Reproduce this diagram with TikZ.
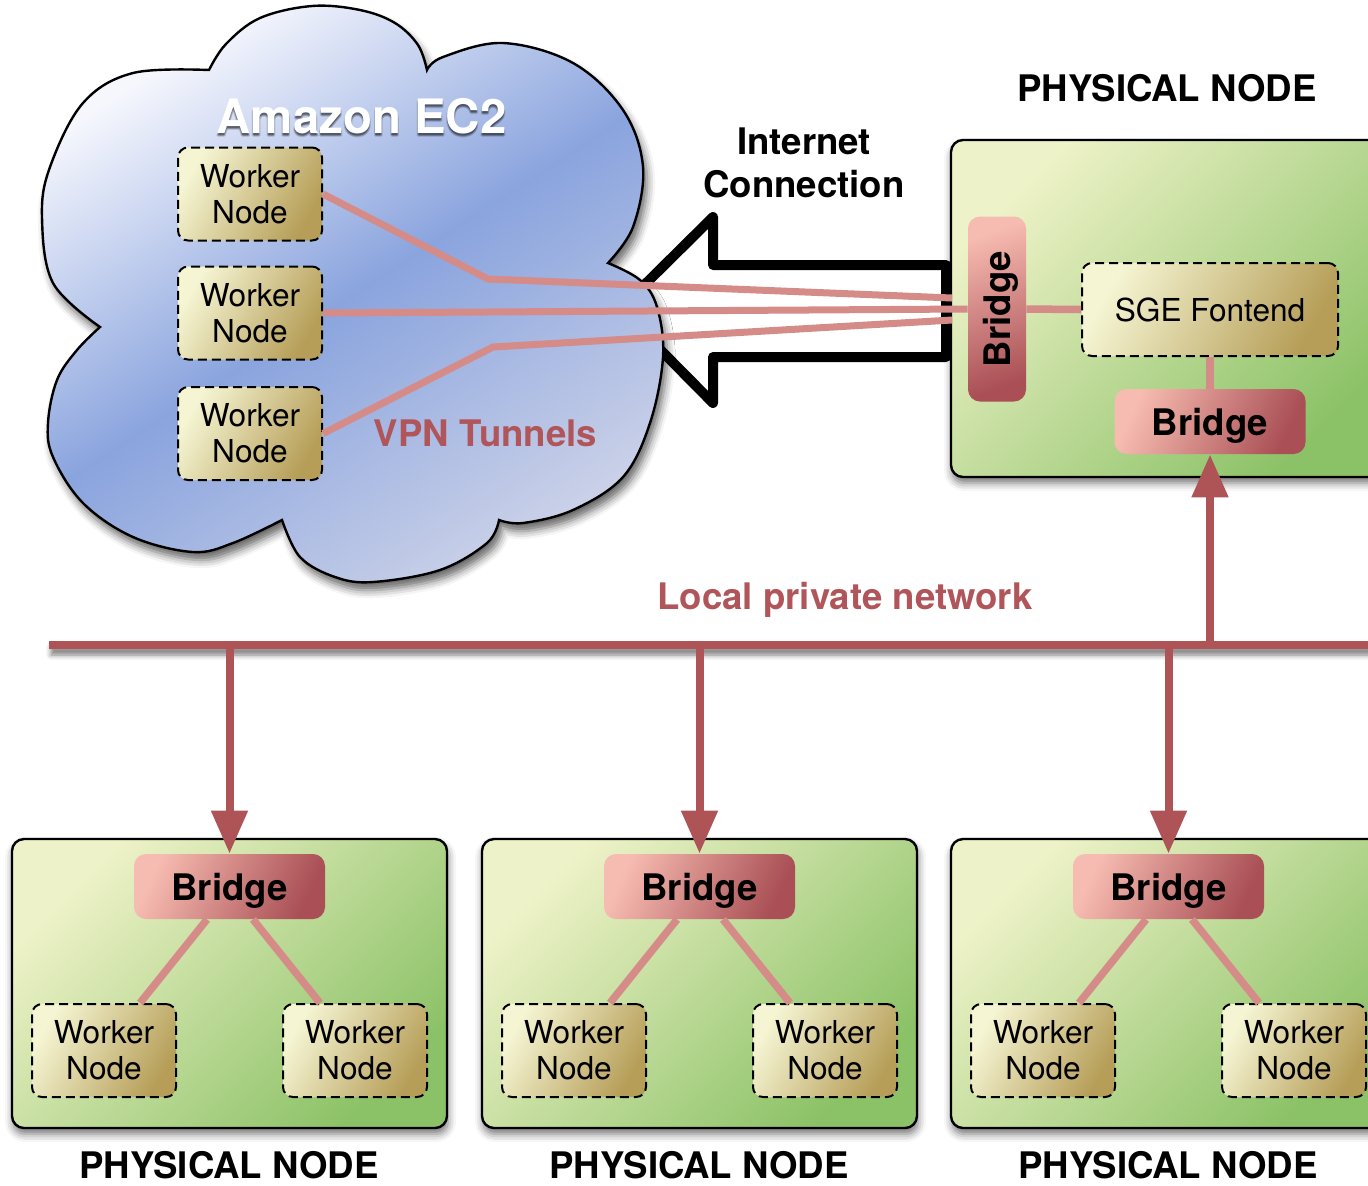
\documentclass[tikz,border=0pt]{standalone}
\usepackage{fontspec}
\setmainfont{TeX Gyre Heros}
\usetikzlibrary{arrows.meta,calc,shadows.blur}
\newcommand{\myworkfont}{\fontsize{15.8pt}{18pt}\selectfont}
\newcommand{\myboldfont}{\fontsize{18.3pt}{21.5pt}\selectfont\bfseries}
\newcommand{\myamazonfont}{\fontsize{23.7pt}{28pt}\selectfont\bfseries}
\definecolor{boxA}{HTML}{EEF2C8}
\definecolor{boxB}{HTML}{8CC267}
\definecolor{wkA}{HTML}{F5F5D3}
\definecolor{wkB}{HTML}{B69E58}
\definecolor{brA}{HTML}{F7BCB1}
\definecolor{brB}{HTML}{A94F55}
\definecolor{tun}{HTML}{D58B87}
\definecolor{netc}{HTML}{AE5457}
\definecolor{lbl}{HTML}{B0565A}
\definecolor{clA}{HTML}{F6F7FD}
\definecolor{clM}{HTML}{8AA4DE}
\definecolor{clB}{HTML}{C9D0E8}
\begin{document}
\begin{tikzpicture}[x=0.5pt,y=-0.5pt,
  physbox/.style={draw=black, line width=1.2pt, rounded corners=6pt,
    top color=boxA, bottom color=boxB, shading angle=45,
    minimum width=217.5pt, inner sep=0pt,
    blur shadow={shadow xshift=0.5pt, shadow yshift=-3pt, shadow blur radius=4pt, shadow opacity=55}},
  worker/.style={draw=black, line width=1pt, dash pattern=on 4.5pt off 2.5pt,
    rounded corners=5pt, top color=wkA, bottom color=wkB, shading angle=60,
    minimum width=72pt, minimum height=46.5pt, inner sep=0pt, align=center, font=\myworkfont},
  bridgebox/.style={rounded corners=6pt, top color=brA, bottom color=brB, shading angle=65,
    minimum width=95.5pt, minimum height=32.5pt, inner sep=0pt, font=\myboldfont, text depth=0pt},
  tunnel/.style={draw=tun, line width=3.5pt, line join=round},
  link/.style={draw=tun, line width=3.75pt},
  netarrow/.style={draw=netc, line width=4pt, -{Triangle[length=21.5pt,width=17.5pt]}},
  biglabel/.style={font=\myboldfont, anchor=base},
  bigarrow/.style={draw=black, line width=5pt, line join=round, fill=white},
  cloudshape/.style={draw=black, line width=1.2pt, top color=clA, bottom color=clB,
    middle color=clM, shading angle=33,
    blur shadow={shadow xshift=2pt, shadow yshift=-4pt, shadow blur radius=4pt, shadow opacity=60}},
]
\useasboundingbox (0,0) rectangle (1368,1185);

% Internet connection arrow
\draw[bigarrow] (620,309) -- (713,217) -- (713,265) -- (946,265) -- (946,357)
   -- (713,357) -- (713,403) -- cycle;
% physical node boxes
\node[physbox, minimum height=168.5pt] (phys0) at (1168.5,308.5) {};
\foreach \i/\x in {1/229.5,2/699.5,3/1168.5}
  \node[physbox, minimum height=144.5pt] (phys\i) at (\x,983.5) {};
% cloud
\path[cloudshape]
  plot[smooth, tension=0.6] coordinates {(209,70) (226,44) (260,18) (312,6) (360,10) (395,23) (418,45) (427,70)}
  -- plot[smooth, tension=0.6] coordinates {(427,70) (443,57) (503,43) (573,63) (623,110) (643,167) (633,227) (608,263)}
  -- plot[smooth, tension=0.6] coordinates {(608,263) (640,280) (657,307) (663,357) (650,423) (623,477) (573,510) (523,523) (499,520)}
  -- plot[smooth, tension=0.6] coordinates {(499,520) (487,543) (440,570) (373,582) (335,577) (300,557) (282,520)}
  -- plot[smooth, tension=0.6] coordinates {(282,520) (233,543) (193,552) (133,537) (83,503) (53,457) (48,423) (57,380) (77,350) (100,327)}
  -- plot[smooth, tension=0.6] coordinates {(100,327) (53,283) (42,217) (50,167) (83,103) (133,73) (209,70)}
  -- cycle;

% ---- nodes in the cloud
\node[worker] (cw1) at (250,194) {Worker\\Node};
\node[worker] (cw2) at (250,313) {Worker\\Node};
\node[worker] (cw3) at (250,433.5) {Worker\\Node};

\foreach \dx/\dy/\op in {0/2/0.3,1/3/0.15,-1/3/0.15,0/4.5/0.12}
  \node[font=\myamazonfont, anchor=base, text=black, opacity=\op] (ecsh) at ({361.5+\dx},{133+\dy}) {Amazon EC2};
\node[font=\myamazonfont, anchor=base, text=white] (ec2) at (361.5,133) {Amazon EC2};
\node[font=\myboldfont, anchor=base, text=lbl] (vpn) at (485.5,446) {VPN Tunnels};

% ---- top right physical node
\node[bridgebox, minimum width=29pt, minimum height=92.5pt, shading angle=20] (bv) at (997,309) {};
\node[rotate=90, font=\myboldfont, text depth=0pt, inner sep=0pt] (bvtext) at (bv.center) {Bridge};
\node[worker, minimum width=128pt] (sge) at (1210,309.5) {SGE Fontend};
\node[bridgebox] (tb) at (1210,421.5) {Bridge};
\node[biglabel] (pl0) at (1167,101) {PHYSICAL NODE};
\node[font=\myboldfont, align=center] (inet) at (804,163) {Internet\\Connection};
\node[biglabel, text=lbl] (lpn) at (845,609) {Local private network};

% ---- bottom physical nodes
\foreach \i/\x in {1/229.5,2/699.5,3/1168.5}{
  \node[bridgebox] (b\i) at (\x,886.5) {Bridge};
  \node[worker] (wl\i) at ({\x-125.5},1050.5) {Worker\\Node};
  \node[worker] (wr\i) at ({\x+125.5},1050.5) {Worker\\Node};
  \node[biglabel] (pl\i) at ({\x-0.5},1178) {PHYSICAL NODE};
}

% ---- connectors
\coordinate (t1a) at (488,279);
\coordinate (t1b) at (952,298);
\coordinate (t3a) at (493,347);
\coordinate (t3b) at (952,320);
\draw[tunnel] (cw1.east) -- (t1a) -- (t1b);
\draw[tunnel] (cw2.east) -- (bv.west);
\draw[tunnel] (cw3.east) -- (t3a) -- (t3b);
\draw[link] (bv.east) -- (sge.west);
\draw[link] (sge.south) -- (tb.north);
\node[fill=netc, minimum width=661.5pt, minimum height=4pt, inner sep=0pt,
      blur shadow={shadow xshift=1pt, shadow yshift=-3pt, shadow blur radius=2.5pt, shadow opacity=50}]
      (bus) at (710.5,645) {};
\draw[netarrow] (tb.south |- bus.center) -- (tb.south);
\foreach \i in {1,2,3}{
  \draw[link] ($(b\i.south)+(-22.5,0)$) -- ($(wl\i.north)+(36,0)$);
  \draw[link] ($(b\i.south)+(23.5,0)$) -- ($(wr\i.north)+(-35,0)$);
  \draw[netarrow] (b\i.north |- bus.center) -- (b\i.north);
}
\end{tikzpicture}
\end{document}
